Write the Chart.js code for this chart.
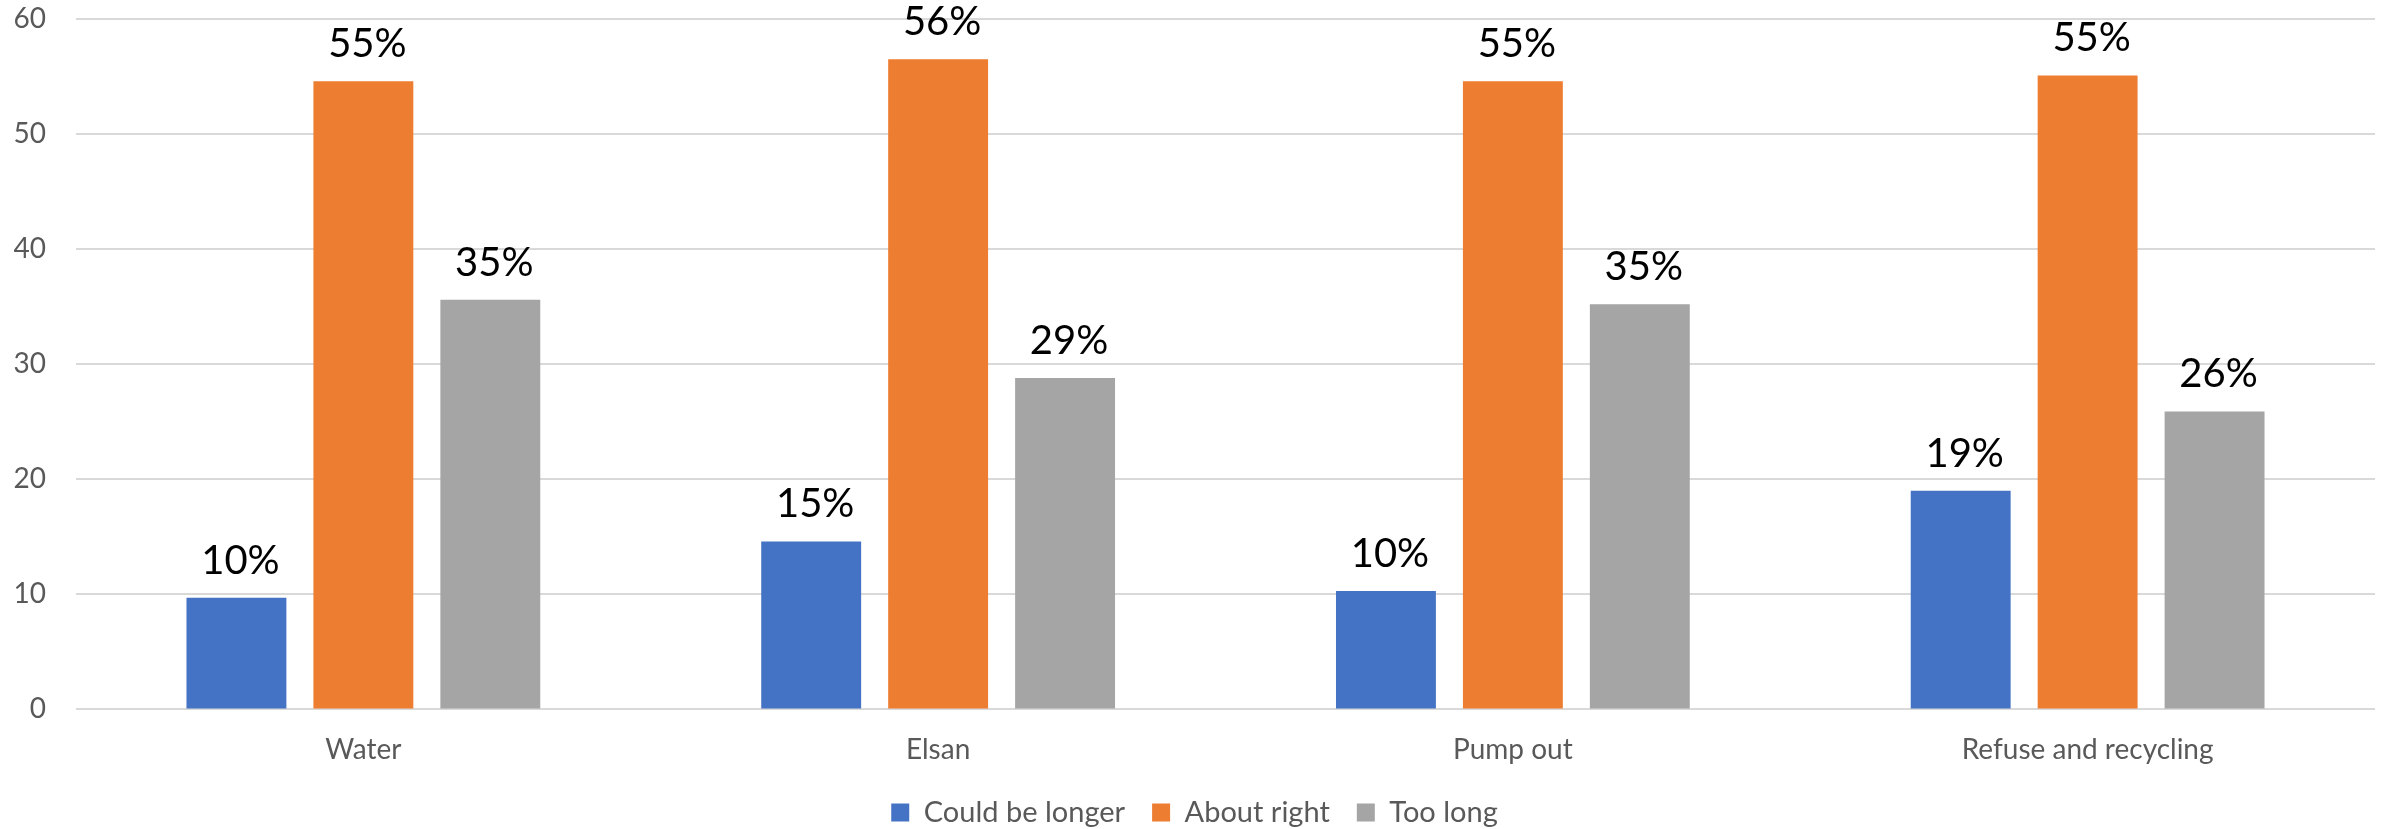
<!DOCTYPE html>
<html>
<head>
<meta charset="utf-8">
<script src="https://cdn.jsdelivr.net/npm/chart.js@4.4.0/dist/chart.umd.min.js"></script>
<style>
  html, body { margin: 0; padding: 0; background: #ffffff; }
  #wrap { width: 2390px; height: 829px; position: relative; }
</style>
</head>
<body>
<div id="wrap"><canvas id="c" width="2390" height="829"></canvas></div>
<script>
const categories = ["Water", "Elsan", "Pump out", "Refuse and recycling"];
const seriesNames = ["Could be longer", "About right", "Too long"];
const couldBeLonger = [9.7, 14.6, 10.3, 19.0];
const aboutRight = [54.6, 56.5, 54.6, 55.1];
const tooLong = [35.6, 28.8, 35.2, 25.9];
const labelsCould = ["10%", "15%", "10%", "19%"];
const labelsAbout = ["55%", "56%", "55%", "55%"];
const labelsTooLong = ["35%", "29%", "35%", "26%"];
const yTicks = [0, 10, 20, 30, 40, 50, 60];

const colors = ["#4472C4", "#ED7D31", "#A5A5A5"];
const FONT = "Lato, 'Open Sans', sans-serif";

const dataLabelPlugin = {
  id: 'dataLabels',
  afterDatasetsDraw(chart) {
    const ctx = chart.ctx;
    const allLabels = [labelsCould, labelsAbout, labelsTooLong];
    ctx.save();
    ctx.font = "40px " + FONT;
    ctx.fillStyle = "#000000";
    ctx.textAlign = "center";
    ctx.textBaseline = "alphabetic";
    chart.data.datasets.forEach((ds, i) => {
      const meta = chart.getDatasetMeta(i);
      meta.data.forEach((bar, j) => {
        ctx.fillText(allLabels[i][j], bar.x + 4, bar.y - 24);
      });
    });
    ctx.restore();
  }
};

new Chart(document.getElementById('c'), {
  type: 'bar',
  data: {
    labels: categories,
    datasets: [
      { label: seriesNames[0], data: couldBeLonger, backgroundColor: colors[0] },
      { label: seriesNames[1], data: aboutRight, backgroundColor: colors[1] },
      { label: seriesNames[2], data: tooLong, backgroundColor: colors[2] }
    ]
  },
  options: {
    responsive: false,
    animation: false,
    devicePixelRatio: 1,
    datasets: { bar: { categoryPercentage: 0.6626, barPercentage: 0.787 } },
    layout: { padding: { left: 14, right: 15, top: 19, bottom: -8 } },
    plugins: {
      tooltip: { enabled: false },
      legend: {
        position: 'bottom',
        labels: {
          boxWidth: 18, boxHeight: 18,
          padding: 27,
          color: '#595959',
          font: { family: FONT, size: 29 }
        }
      }
    },
    scales: {
      x: {
        grid: { display: false, drawTicks: false },
        border: { display: false },
        ticks: { color: '#595959', font: { family: FONT, size: 28 }, padding: 24 },
        afterFit(scale) { scale.height = scale.height - 20; }
      },
      y: {
        min: 0, max: 60,
        afterBuildTicks(axis) { axis.ticks = yTicks.map(v => ({ value: v })); },
        grid: { color: '#D9D9D9', lineWidth: 2, drawTicks: false },
        border: { display: false },
        ticks: { color: '#595959', font: { family: FONT, size: 28 }, padding: 30 },
        afterFit(scale) { scale.width = 62; scale.paddingTop = 0; scale.paddingBottom = 0; }
      }
    }
  },
  plugins: [dataLabelPlugin]
});
</script>
</body>
</html>
